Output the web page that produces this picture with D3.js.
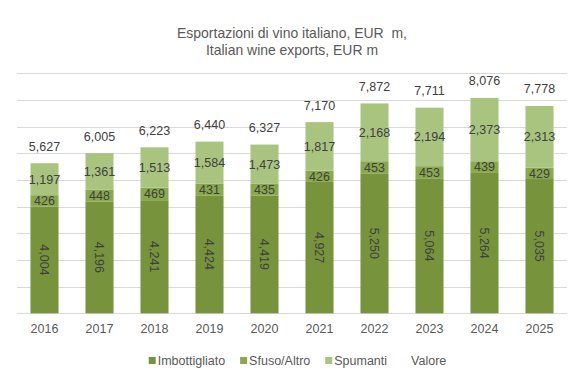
<!DOCTYPE html>
<html><head><meta charset="utf-8">
<script src="https://cdn.jsdelivr.net/npm/d3@7"></script>
<style>
html,body{margin:0;padding:0;background:#fff;}
svg{display:block;}
</style></head>
<body>
<svg id="chart" width="587" height="382"></svg>
<script>
const years = ["2016","2017","2018","2019","2020","2021","2022","2023","2024","2025"];
const imbottigliato = [4004,4196,4241,4424,4419,4927,5250,5064,5264,5035];
const sfuso = [426,448,469,431,435,426,453,453,439,429];
const spumanti = [1197,1361,1513,1584,1473,1817,2168,2194,2373,2313];
const valore = [5627,6005,6223,6440,6327,7170,7872,7711,8076,7778];
const seriesNames = ["Imbottigliato","Sfuso/Altro","Spumanti","Valore"];
const yTicks = [0,1000,2000,3000,4000,5000,6000,7000,8000,9000];
const titleLines = ["Esportazioni di vino italiano, EUR  m,","Italian wine exports, EUR m"];

const colors = {"Imbottigliato":"#77933c","Sfuso/Altro":"#8aa84e","Spumanti":"#a9c47f","Valore":"none"};
const FONT = "'Liberation Sans',Arial,sans-serif";
const svg = d3.select("#chart");

const x = d3.scaleBand().domain(years).range([17,567]).paddingInner(0.49).paddingOuter(0.245);
const y = d3.scaleLinear().domain([0,9000]).range([313.3,73.3]);

// gridlines
svg.append("g").selectAll("line").data(yTicks).join("line")
  .attr("x1",17).attr("x2",567)
  .attr("y1",d=>Math.round(y(d))+0.5).attr("y2",d=>Math.round(y(d))+0.5)
  .attr("stroke","#d9d9d9").attr("stroke-width",1);

// stack
const rows = years.map((yr,i)=>({year:yr,"Imbottigliato":imbottigliato[i],"Sfuso/Altro":sfuso[i],"Spumanti":spumanti[i]}));
const stack = d3.stack().keys(["Imbottigliato","Sfuso/Altro","Spumanti"])(rows);

const g = svg.append("g");
stack.forEach(layer=>{
  g.append("g").selectAll("rect").data(layer).join("rect")
    .attr("x",d=>x(d.data.year)).attr("width",x.bandwidth())
    .attr("y",d=>y(d[1])).attr("height",d=>y(d[0])-y(d[1]))
    .attr("fill",colors[layer.key]);
});

// labels
const fmt = d3.format(",");
const labelColor = "#404040";
stack.forEach(layer=>{
  const lg = g.append("g");
  layer.forEach(d=>{
    const cx = x(d.data.year)+x.bandwidth()/2;
    const cy = (y(d[0])+y(d[1]))/2;
    const t = lg.append("text").text(fmt(d.data[layer.key]))
      .attr("font-family",FONT).attr("font-size",12.5).attr("fill",labelColor)
      .attr("text-anchor","middle").attr("dy","0.35em");
    if(layer.key==="Imbottigliato"){
      t.attr("transform",`translate(${cx},${cy}) rotate(90)`);
    } else {
      t.attr("x",cx).attr("y",cy);
    }
  });
});
// totals
g.append("g").selectAll("text").data(years).join("text")
  .attr("x",d=>x(d)+x.bandwidth()/2)
  .attr("y",(d,i)=>y(valore[i])-12.5)
  .attr("text-anchor","middle").attr("font-family",FONT).attr("font-size",12.5).attr("fill",labelColor)
  .text((d,i)=>fmt(valore[i]));

// x axis labels
const xAxis = d3.axisBottom(x).tickSize(0).tickPadding(0);
const ax = svg.append("g").attr("transform","translate(0,325)").call(xAxis);
ax.select(".domain").remove();
ax.selectAll("text").attr("font-family",FONT).attr("font-size",12.5).attr("fill","#595959").attr("dy","0.35em").attr("y",4);

// title
svg.append("g").selectAll("text").data(titleLines).join("text")
  .attr("x",292).attr("y",(d,i)=>38+i*17)
  .attr("text-anchor","middle").attr("font-family",FONT).attr("font-size",15).attr("fill","#595959")
  .attr("textLength",(d,i)=>i===0?230:172).attr("lengthAdjust","spacingAndGlyphs")
  .style("white-space","pre")
  .text(d=>d);

// legend
const leg = svg.append("g");
const items = [];
seriesNames.forEach(name=>{
  const it = leg.append("g");
  it.append("rect").attr("x",0).attr("y",-4).attr("width",7).attr("height",7).attr("fill",colors[name]);
  const t = it.append("text").attr("x",9).attr("y",0).attr("dy","0.35em")
    .attr("font-family",FONT).attr("font-size",12.5).attr("fill","#595959").text(name);
  const w = 9 + t.node().getComputedTextLength();
  items.push({it,w});
});
const gap = 15;
const total = d3.sum(items,d=>d.w) + gap*(items.length-1);
let lx = 297.5 - total/2;
items.forEach(d=>{ d.it.attr("transform",`translate(${lx},361)`); lx += d.w+gap; });
</script>
</body></html>
